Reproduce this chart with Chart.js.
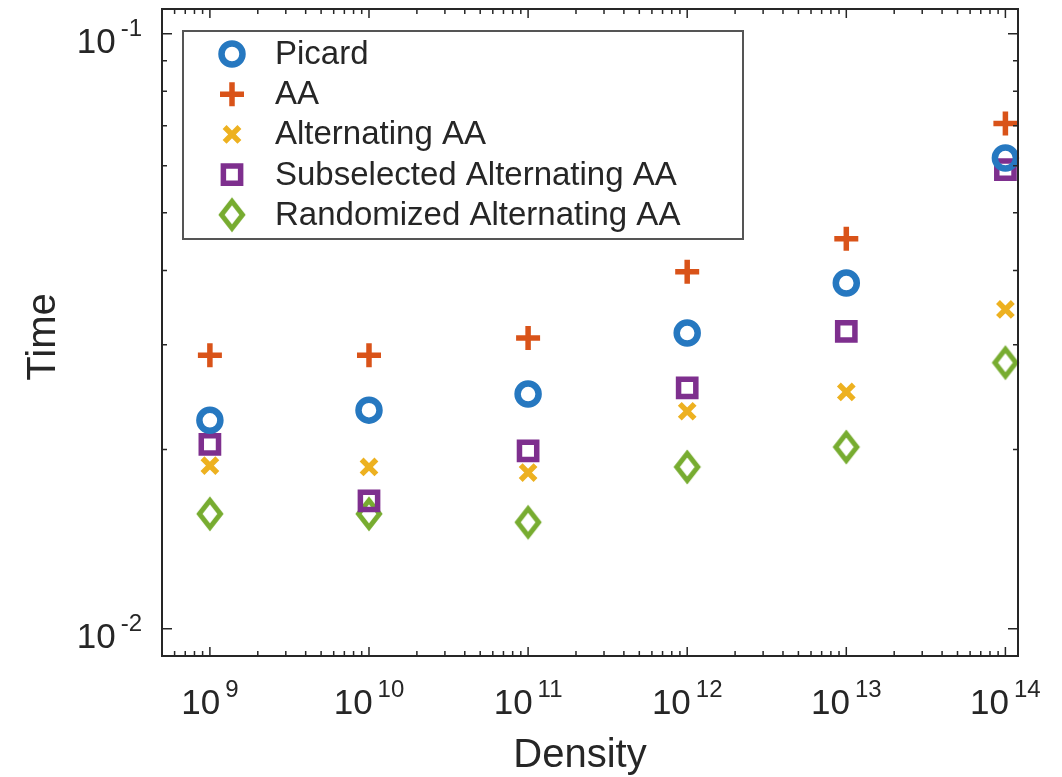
<!DOCTYPE html>
<html>
<head>
<meta charset="utf-8">
<script src="https://cdn.jsdelivr.net/npm/chart.js@4.4.1/dist/chart.umd.min.js"></script>
<style>
html, body { margin: 0; padding: 0; background: #fff; }
#wrap { width: 1062px; height: 777px; position: relative; }
</style>
</head>
<body>
<div id="wrap"><canvas id="timeChart"></canvas></div>
<script>
// data
const densities = [1e9, 1e10, 1e11, 1e12, 1e13, 1e14];
const picard = [0.0224, 0.0233, 0.0248, 0.0314, 0.0381, 0.0618];
const aa = [0.0288, 0.0288, 0.0308, 0.0398, 0.0452, 0.0706];
const altAA = [0.0188, 0.0187, 0.0183, 0.0232, 0.0250, 0.0344];
const subAltAA = [0.0204, 0.0164, 0.0199, 0.0254, 0.0316, 0.0591];
const randAltAA = [0.0156, 0.0156, 0.0151, 0.0187, 0.0202, 0.0280];
const seriesNames = ['Picard', 'AA', 'Alternating AA', 'Subselected Alternating AA', 'Randomized Alternating AA'];

// tick labels (powers of ten)
const xMajorTicks = [1e9, 1e10, 1e11, 1e12, 1e13, 1e14];
const xTickExponents = ['9', '10', '11', '12', '13', '14'];
const yMajorTicks = [0.01, 0.1];
const yTickExponents = ['-2', '-1'];

const FONT = '"Liberation Sans", Arial, Helvetica, sans-serif';
const INK = '#262626';

function diamondMarker(color) {
    const c = document.createElement('canvas');
    c.width = 32; c.height = 40;
    const g = c.getContext('2d');
    g.strokeStyle = color;
    g.lineWidth = 5;
    g.lineJoin = 'miter';
    g.beginPath();
    g.moveTo(16, 6.5); g.lineTo(26.5, 20); g.lineTo(16, 33.5); g.lineTo(5.5, 20);
    g.closePath();
    g.stroke();
    return c;
}

function pts(ys) {
    return densities.map((d, i) => ({ x: d, y: ys[i] }));
}

function logTicks(min, max) {
    const out = [];
    for (let k = Math.floor(Math.log10(min)); k <= Math.ceil(Math.log10(max)); k++) {
        for (let n = 1; n <= 9; n++) {
            const v = n * Math.pow(10, k);
            if (v > min * 1.0001 && v < max * 0.9999) out.push({ value: v });
        }
    }
    return out;
}

const seriesStyles = [
    { data: picard, color: '#2678c0', pointStyle: 'circle', radius: 10.5, bw: 6.5 },
    { data: aa, color: '#d95319', pointStyle: 'cross', radius: 12, bw: 5.5 },
    { data: altAA, color: '#edb120', pointStyle: 'crossRot', radius: 10.5, bw: 5.5 },
    { data: subAltAA, color: '#7e2f8e', pointStyle: 'rect', radius: 12.2, bw: 5.5 },
    { data: randAltAA, color: '#77ac30', pointStyle: diamondMarker('#77ac30'), radius: 16, bw: 0 }
];

function drawPow(ctx, exp, x, baseline, align) {
    const baseFont = '35px ' + FONT;
    const supFont = '24px ' + FONT;
    ctx.font = baseFont;
    const wb = ctx.measureText('10').width;
    ctx.font = supFont;
    const we = ctx.measureText(exp).width;
    const gap = 5;
    const total = wb + gap + we;
    const left = align === 'center' ? x - total / 2 : x - total;
    ctx.textAlign = 'left';
    ctx.textBaseline = 'alphabetic';
    ctx.font = baseFont;
    ctx.fillText('10', left, baseline);
    ctx.font = supFont;
    ctx.fillText(exp, left + wb + gap, baseline - 17);
}

const matlabAxes = {
    id: 'matlabAxes',
    afterDraw(chart) {
        const ctx = chart.ctx;
        const a = chart.chartArea;
        const xs = chart.scales.x, ys = chart.scales.y;
        ctx.save();
        ctx.strokeStyle = INK;
        ctx.fillStyle = INK;
        ctx.lineWidth = 1.5;

        // ticks, pointing inward on all four sides
        ctx.beginPath();
        xs.ticks.forEach(t => {
            const px = xs.getPixelForValue(t.value);
            const len = xMajorTicks.includes(t.value) ? 9 : 5;
            ctx.moveTo(px, a.bottom); ctx.lineTo(px, a.bottom - len);
            ctx.moveTo(px, a.top); ctx.lineTo(px, a.top + len);
        });
        ys.ticks.forEach(t => {
            const py = ys.getPixelForValue(t.value);
            const major = yMajorTicks.some(m => Math.abs(m - t.value) < 1e-9);
            const len = major ? 10 : 5;
            ctx.moveTo(a.left, py); ctx.lineTo(a.left + len, py);
            ctx.moveTo(a.right, py); ctx.lineTo(a.right - len, py);
        });
        ctx.stroke();

        // frame
        ctx.lineWidth = 2;
        ctx.strokeRect(a.left, a.top, a.right - a.left, a.bottom - a.top);

        // tick labels
        xMajorTicks.forEach((v, i) => {
            drawPow(ctx, xTickExponents[i], xs.getPixelForValue(v), a.bottom + 58, 'center');
        });
        yMajorTicks.forEach((v, i) => {
            drawPow(ctx, yTickExponents[i], a.left - 20, ys.getPixelForValue(v) + 19.5, 'right');
        });

        // axis titles
        ctx.font = '40px ' + FONT;
        ctx.textAlign = 'center';
        ctx.textBaseline = 'alphabetic';
        ctx.fillText('Density', 580, 767);
        ctx.save();
        ctx.translate(55, 337);
        ctx.rotate(-Math.PI / 2);
        ctx.fillText('Time', 0, 0);
        ctx.restore();

        // legend box
        const lx = 183, ly = 31, lw = 560, lh = 208;
        ctx.fillStyle = '#fff';
        ctx.fillRect(lx, ly, lw, lh);
        ctx.strokeStyle = '#555';
        ctx.lineWidth = 2;
        ctx.strokeRect(lx, ly, lw, lh);
        ctx.font = '33px ' + FONT;
        ctx.textAlign = 'left';
        ctx.textBaseline = 'middle';
        chart.data.datasets.forEach((ds, i) => {
            const rowY = 54 + i * 40.2;
            ctx.strokeStyle = ds.borderColor;
            ctx.fillStyle = 'rgba(0,0,0,0)';
            ctx.lineWidth = ds.borderWidth;
            Chart.helpers.drawPoint(ctx, {
                pointStyle: ds.pointStyle,
                radius: ds.pointRadius,
                borderWidth: ds.borderWidth,
                rotation: 0
            }, 232, rowY);
            ctx.fillStyle = INK;
            ctx.fillText(seriesNames[i], 275, rowY + 1);
        });
        ctx.restore();
    }
};

const chart = new Chart(document.getElementById('timeChart'), {
    type: 'scatter',
    data: {
        datasets: seriesStyles.map((s, i) => ({
            label: seriesNames[i],
            data: pts(s.data),
            pointStyle: s.pointStyle,
            pointRadius: s.radius,
            pointHoverRadius: s.radius,
            borderColor: s.color,
            backgroundColor: 'rgba(0,0,0,0)',
            borderWidth: s.bw,
            clip: false
        }))
    },
    options: {
        responsive: true,
        maintainAspectRatio: false,
        animation: false,
        events: [],
        layout: { autoPadding: false, padding: { left: 162, top: 9, right: 44, bottom: 121 } },
        plugins: { legend: { display: false }, tooltip: { enabled: false } },
        scales: {
            x: {
                type: 'logarithmic',
                min: 5e8,
                max: 1.2e14,
                grid: { display: false, drawTicks: false },
                border: { display: false },
                ticks: { display: false },
                afterBuildTicks: s => { s.ticks = logTicks(5e8, 1.2e14); }
            },
            y: {
                type: 'logarithmic',
                min: 0.009,
                max: 0.11,
                grid: { display: false, drawTicks: false },
                border: { display: false },
                ticks: { display: false },
                afterBuildTicks: s => { s.ticks = logTicks(0.009, 0.11); }
            }
        }
    },
    plugins: [matlabAxes]
});
</script>
</body>
</html>
